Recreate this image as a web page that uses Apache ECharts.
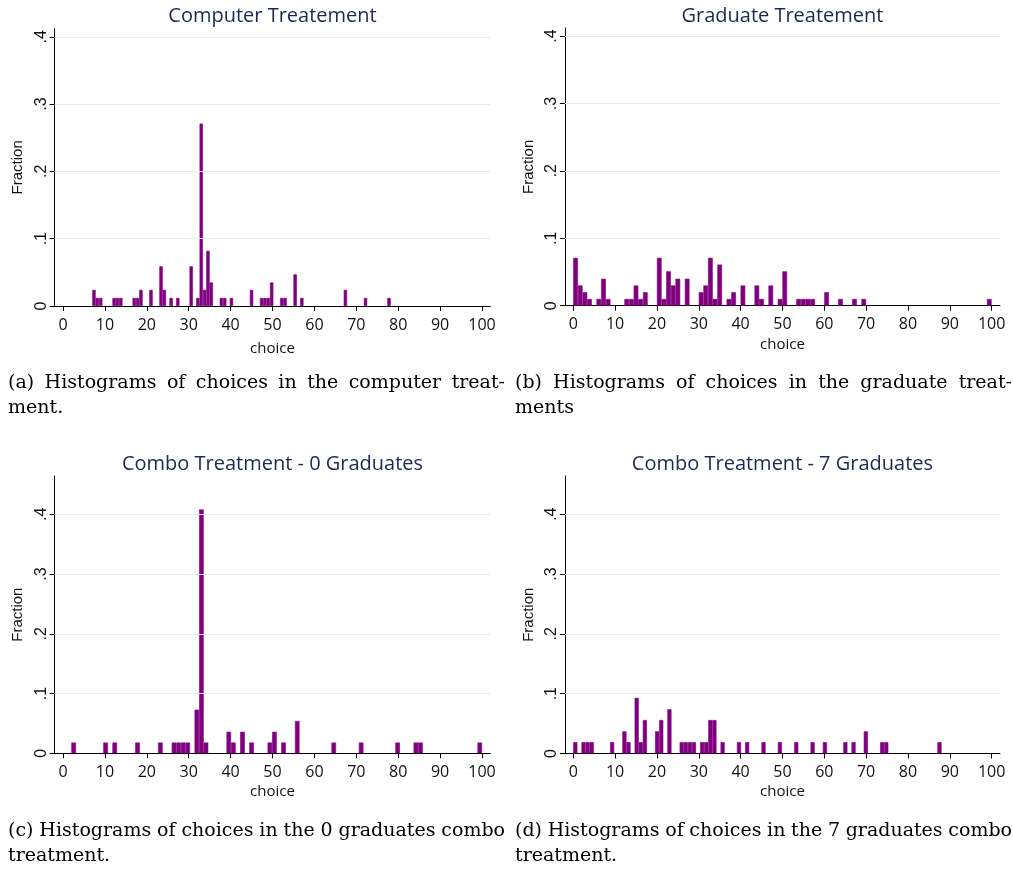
<!DOCTYPE html>
<html><head><meta charset="utf-8">
<script src="https://cdn.jsdelivr.net/npm/echarts@6/dist/echarts.min.js"></script>
<style>html,body{margin:0;padding:0;background:#fff}#c{width:1013px;height:869px}</style>
</head><body><div id="c"></div><script>
// ---------- data ----------
const xTickValues = [0, 10, 20, 30, 40, 50, 60, 70, 80, 90, 100];
const yTickValues = [0, 0.1, 0.2, 0.3, 0.4];
const panelTitles = ['Computer Treatement', 'Graduate Treatement', 'Combo Treatment - 0 Graduates', 'Combo Treatment - 7 Graduates'];
const xAxisName = 'choice';
const yAxisName = 'Fraction';
const captionsLine1 = ['(a) Histograms of choices in the computer treat-', '(b) Histograms of choices in the graduate treat-', '(c) Histograms of choices in the 0 graduates combo', '(d) Histograms of choices in the 7 graduates combo'];
const captionsLine2 = ['ment.', 'ments', 'treatment.', 'treatment.'];

// histogram bins: first bin start, bin width, occupied bin indices, fractions
const compStart = 7, compWidth = 0.8;
const compBins = [0, 1, 2, 6, 7, 8, 12, 13, 14, 17, 20, 21, 23, 25, 29, 31, 32, 33, 34, 35, 38, 39, 41, 47, 50, 51, 52, 53, 56, 57, 60, 62, 75, 81, 88];
const compFrac = [0.024, 0.012, 0.012, 0.012, 0.012, 0.012, 0.012, 0.012, 0.024, 0.024, 0.059, 0.024, 0.012, 0.012, 0.059, 0.012, 0.271, 0.024, 0.082, 0.035, 0.012, 0.012, 0.012, 0.024, 0.012, 0.012, 0.012, 0.035, 0.012, 0.012, 0.047, 0.012, 0.024, 0.012, 0.012];

const gradStart = 0, gradWidth = 1.111;
const gradBins = [0, 1, 2, 3, 5, 6, 7, 11, 12, 13, 14, 15, 18, 19, 20, 21, 22, 24, 27, 28, 29, 30, 31, 33, 34, 36, 39, 40, 42, 44, 45, 48, 49, 50, 51, 54, 57, 60, 62, 89];
const gradFrac = [0.071, 0.030, 0.020, 0.010, 0.010, 0.040, 0.010, 0.010, 0.010, 0.030, 0.010, 0.020, 0.071, 0.010, 0.051, 0.030, 0.040, 0.040, 0.020, 0.030, 0.071, 0.010, 0.061, 0.010, 0.020, 0.030, 0.030, 0.010, 0.030, 0.010, 0.051, 0.010, 0.010, 0.010, 0.010, 0.020, 0.010, 0.010, 0.010, 0.010];

const combo0Start = 2, combo0Width = 1.089;
const combo0Bins = [0, 7, 9, 14, 19, 22, 23, 24, 25, 27, 28, 29, 34, 35, 37, 39, 43, 44, 46, 49, 57, 63, 71, 75, 76, 89];
const combo0Frac = [0.018, 0.018, 0.018, 0.018, 0.018, 0.018, 0.018, 0.018, 0.018, 0.073, 0.408, 0.018, 0.036, 0.018, 0.036, 0.018, 0.018, 0.036, 0.018, 0.054, 0.018, 0.018, 0.018, 0.018, 0.018, 0.018];

const combo7Start = 0, combo7Width = 0.978;
const combo7Bins = [0, 2, 3, 4, 9, 12, 13, 15, 16, 17, 20, 21, 23, 26, 27, 28, 29, 31, 32, 33, 34, 36, 40, 42, 46, 50, 54, 58, 61, 66, 68, 71, 75, 76, 89];
const combo7Frac = [0.019, 0.019, 0.019, 0.019, 0.019, 0.037, 0.019, 0.093, 0.019, 0.056, 0.037, 0.056, 0.074, 0.019, 0.019, 0.019, 0.019, 0.019, 0.019, 0.056, 0.056, 0.019, 0.019, 0.019, 0.019, 0.019, 0.019, 0.019, 0.019, 0.019, 0.019, 0.037, 0.019, 0.019, 0.019];

// ---------- layout ----------
const X_MIN = -2, X_MAX = 102;
const panels = [
  {left: 54.6, top: 28.7, width: 435.8, height: 277.3, ymax: 0.412, nameGap: 35, start: compStart, bw: compWidth, bins: compBins, frac: compFrac},
  {left: 564.9, top: 28.0, width: 435.1, height: 277.7, ymax: 0.412, nameGap: 32, start: gradStart, bw: gradWidth, bins: gradBins, frac: gradFrac},
  {left: 54.6, top: 476, width: 435.8, height: 277.3, ymax: 0.464, nameGap: 31, start: combo0Start, bw: combo0Width, bins: combo0Bins, frac: combo0Frac},
  {left: 564.9, top: 476, width: 435.1, height: 277.5, ymax: 0.464, nameGap: 31, start: combo7Start, bw: combo7Width, bins: combo7Bins, frac: combo7Frac}
];
const captionPos = [{x: 8, y: 383}, {x: 515, y: 383}, {x: 8, y: 831}, {x: 515, y: 831}];
const captionLineWidth = 497;
const titleY = [16, 16, 464, 464];
const CAPTION_FONT = '19px "DejaVu Serif"';

const AXIS_COLOR = '#000';
const GRID_COLOR = '#e2eaee';
const BAR_COLOR = '#800080';
const TITLE_COLOR = '#1a2a50';

const measureCtx = document.createElement('canvas').getContext('2d');
measureCtx.font = CAPTION_FONT;

function justifiedWords(text, x0, y, width) {
  const words = text.split(' ');
  const widths = words.map(w => measureCtx.measureText(w).width);
  const total = widths.reduce((s, v) => s + v, 0);
  const gap = (width - total) / (words.length - 1);
  const out = [];
  let x = x0;
  words.forEach((w, k) => {
    out.push({type: 'text', x: x, y: y, style: {text: w, fill: '#000', font: CAPTION_FONT, align: 'left', verticalAlign: 'middle'}});
    x += widths[k] + gap;
  });
  return out;
}

const grids = [], xAxes = [], yAxes = [], series = [];
let graphics = [];
panels.forEach((p, i) => {
  grids.push({left: p.left, top: p.top, width: p.width, height: p.height, containLabel: false});
  xAxes.push({
    type: 'value', gridIndex: i, min: X_MIN, max: X_MAX,
    name: xAxisName, nameLocation: 'middle', nameGap: p.nameGap,
    nameTextStyle: {fontFamily: 'Open Sans', fontSize: 15, color: '#111'},
    axisLine: {onZero: false, lineStyle: {color: AXIS_COLOR, width: 1}},
    axisTick: {show: true, length: 5, inside: false, customValues: xTickValues, lineStyle: {color: AXIS_COLOR}},
    axisLabel: {customValues: xTickValues, fontFamily: 'Open Sans', fontSize: 16, color: '#111', margin: 11},
    splitLine: {show: false}
  });
  yAxes.push({
    type: 'value', gridIndex: i, min: 0, max: p.ymax,
    name: yAxisName, nameLocation: 'middle', nameGap: 29, nameRotate: 90,
    nameTextStyle: {fontFamily: 'Liberation Sans', fontSize: 15, color: '#111'},
    axisLine: {show: true, onZero: false, lineStyle: {color: AXIS_COLOR, width: 1}},
    axisTick: {show: true, length: 5, customValues: yTickValues, lineStyle: {color: AXIS_COLOR}},
    axisLabel: {customValues: yTickValues, rotate: 90, margin: 5, fontFamily: 'Liberation Sans', fontSize: 16, color: '#111',
      formatter: v => v === 0 ? '0' : String(v).replace(/^0/, '')},
    splitLine: {show: false}
  });
  const pxPerUnit = p.width / (X_MAX - X_MIN);
  series.push({
    type: 'bar', xAxisIndex: i, yAxisIndex: i,
    barWidth: p.bw * pxPerUnit,
    itemStyle: {color: BAR_COLOR, borderColor: BAR_COLOR, borderWidth: 0.6},
    data: p.bins.map((b, k) => [p.start + (b + 0.5) * p.bw, p.frac[k]]),
    markLine: {
      silent: true, symbol: 'none', label: {show: false},
      lineStyle: {color: GRID_COLOR, type: 'solid', width: 1},
      data: yTickValues.filter(v => v > 0).map(v => ({yAxis: v}))
    },
    z: 3
  });
  graphics.push({type: 'text', x: p.left + p.width / 2, y: titleY[i],
    style: {text: panelTitles[i], fill: TITLE_COLOR, font: '20px "Open Sans"', align: 'center', verticalAlign: 'middle'}});
  graphics = graphics.concat(justifiedWords(captionsLine1[i], captionPos[i].x, captionPos[i].y, captionLineWidth));
  graphics.push({type: 'text', x: captionPos[i].x, y: captionPos[i].y + 25.5,
    style: {text: captionsLine2[i], fill: '#000', font: CAPTION_FONT, align: 'left', verticalAlign: 'middle'}});
});

const chart = echarts.init(document.getElementById('c'), null, {renderer: 'canvas'});
chart.setOption({
  backgroundColor: '#fff',
  animation: false,
  grid: grids, xAxis: xAxes, yAxis: yAxes, series: series,
  graphic: graphics
});
</script></body></html>
